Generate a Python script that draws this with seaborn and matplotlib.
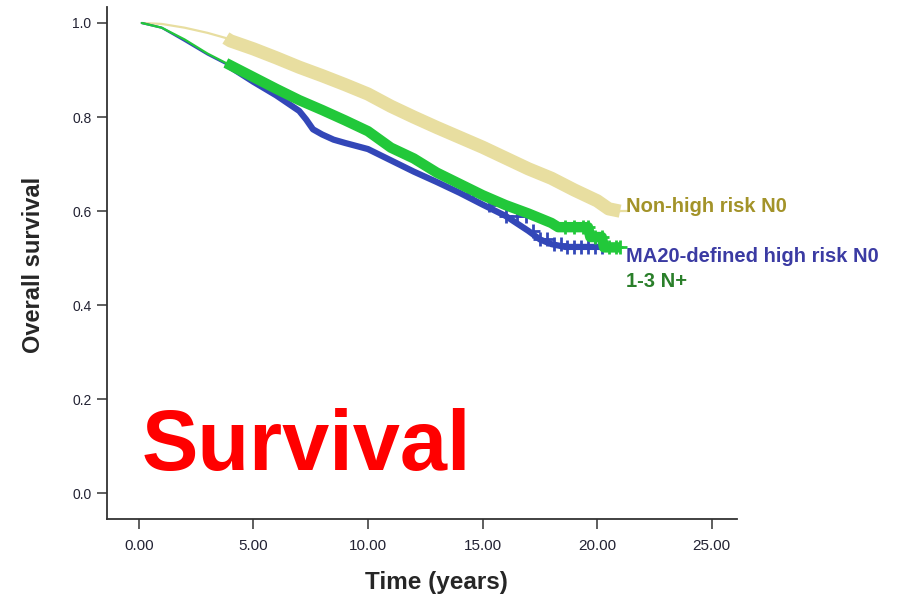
import numpy as np
import pandas as pd
import matplotlib
matplotlib.use("Agg")
import matplotlib.pyplot as plt
import seaborn as sns

# ---- data ----
tan_t = [0.13, 1, 2, 3, 3.8, 4, 5, 6, 7, 8, 9, 10, 11, 12, 13, 14, 15, 16, 17, 18, 19, 20, 20.5, 21.0]
tan_s = [1.0, 0.998, 0.99, 0.979, 0.968, 0.962, 0.945, 0.926, 0.906, 0.888, 0.869, 0.849, 0.823,
         0.80, 0.778, 0.757, 0.736, 0.713, 0.69, 0.67, 0.645, 0.622, 0.605, 0.60]

blue_t = [0.13, 1, 2, 3, 3.8, 4, 5, 6, 7, 7.3, 7.6, 8, 8.5, 9, 10, 11, 12, 13, 14, 15, 16, 17,
          17.5, 18, 18.6, 20.3]
blue_s = [1.0, 0.99, 0.962, 0.933, 0.913, 0.906, 0.875, 0.846, 0.813, 0.795, 0.774, 0.763, 0.752,
          0.745, 0.732, 0.708, 0.684, 0.662, 0.639, 0.614, 0.59, 0.558, 0.54, 0.53, 0.524, 0.524]

green_t = [0.13, 1, 2, 3, 3.8, 4, 5, 6, 7, 8, 9, 10, 11, 12, 13, 14, 15, 16, 17, 18, 18.3, 19.6,
           19.7, 20.2, 20.3, 21.0]
green_s = [1.0, 0.99, 0.965, 0.935, 0.915, 0.91, 0.885, 0.86, 0.836, 0.815, 0.793, 0.77, 0.735,
           0.712, 0.682, 0.658, 0.634, 0.613, 0.595, 0.575, 0.566, 0.566, 0.545, 0.545, 0.523, 0.523]

# censoring marks visible individually in the tails
blue_cens = [14.6, 15.3, 16.0, 16.5, 16.9, 17.2, 17.5, 17.8, 18.1, 18.4, 18.7, 19.0, 19.3,
             19.6, 19.9, 20.2]
green_cens = [18.6, 19.0, 19.4, 19.6, 19.9, 20.2, 20.5, 20.8, 21.0]

x_ticks = [0, 5, 10, 15, 20, 25]
x_ticklabels = ["0.00", "5.00", "10.00", "15.00", "20.00", "25.00"]
y_ticks = [0.0, 0.2, 0.4, 0.6, 0.8, 1.0]
y_ticklabels = ["0.0", "0.2", "0.4", "0.6", "0.8", "1.0"]

names = ["Non-high risk N0", "MA20-defined high risk N0", "1-3 N+"]
line_colors = ["#e8dea0", "#3347b8", "#22c83a"]
text_colors = ["#a39329", "#3b3ba3", "#2a7f2a"]

# ---- figure ----
sns.set_theme(style="white")
plt.rcParams["font.family"] = ["Liberation Sans", "DejaVu Sans"]

W, H = 906, 599
fig = plt.figure(figsize=(W / 100, H / 100), dpi=100)
ax_l, ax_r, ax_b, ax_t = 106.7, 737, 519.3, 7
ax = fig.add_axes([ax_l / W, 1 - ax_b / H, (ax_r - ax_l) / W, (ax_b - ax_t) / H])

series = [(tan_t, tan_s), (blue_t, blue_s), (green_t, green_s)]
band_lw = [9.5, 4.5, 7.5]
for i in range(3):
    t, s = series[i]
    df = pd.DataFrame({"t": t, "s": s})
    sns.lineplot(data=df, x="t", y="s", ax=ax, color=line_colors[i], linewidth=1.6,
                 estimator=None, sort=False, zorder=2 + i)
    dfb = df[df["t"] >= 3.8]
    sns.lineplot(data=dfb, x="t", y="s", ax=ax, color=line_colors[i], linewidth=band_lw[i],
                 estimator=None, sort=False, zorder=2 + i, solid_capstyle="butt",
                 solid_joinstyle="round")

def step_lookup(t, s, times):
    idx = np.searchsorted(np.asarray(t), np.asarray(times), side="right") - 1
    return np.asarray(s)[np.clip(idx, 0, len(s) - 1)]

for (t, s), cens, col, z in [((blue_t, blue_s), blue_cens, line_colors[1], 3),
                             ((green_t, green_s), green_cens, line_colors[2], 4)]:
    cy = step_lookup(t, s, cens)
    ax.plot(cens, cy, linestyle="none", marker="+", markersize=10, markeredgewidth=2,
            color=col, zorder=z)

# connector from tan tail to its label
ax.plot([tan_t[-1], 21.4], [tan_s[-1], tan_s[-1]], color=line_colors[0], lw=1.6, zorder=2)

ax.set_xlim(-1.4, 26.1)
ax.set_ylim(-0.055, 1.034)
ax.set_xticks(x_ticks)
ax.set_xticklabels(x_ticklabels, fontsize=11, color="#222233")
ax.set_yticks(y_ticks)
ax.set_yticklabels(y_ticklabels, fontsize=10, color="#222233")
ax.tick_params(axis="x", direction="out", length=7.5, width=1.1, color="#333333", pad=7,
               bottom=True)
ax.tick_params(axis="y", direction="out", length=7.5, width=1.1, color="#333333", pad=3.5,
               left=True)
for side in ["top", "right"]:
    ax.spines[side].set_visible(False)
for side in ["left", "bottom"]:
    ax.spines[side].set_color("#333333")
    ax.spines[side].set_linewidth(1.3)

ax.set_xlabel("Time (years)", fontsize=17.5, fontweight="bold", va="center")
ax.xaxis.set_label_coords((436 - ax_l) / (ax_r - ax_l), (ax_b - 582) / (ax_b - ax_t))
ax.set_ylabel("Overall survival", fontsize=17, fontweight="bold", va="center")
ax.yaxis.set_label_coords((33 - ax_l) / (ax_r - ax_l), (ax_b - 265) / (ax_b - ax_t))

# curve labels
lab_y = [212, 262, 287]
for name, col, yy in zip(names, text_colors, lab_y):
    fig.text(626 / W, 1 - yy / H, name, color=col, fontsize=14.5, fontweight="bold",
             ha="left", va="baseline")

fig.text(142 / W, 1 - 470 / H, "Survival", color="#ff0000", fontsize=61, fontweight="bold",
         ha="left", va="baseline")

fig.savefig("out.png", dpi=100)
